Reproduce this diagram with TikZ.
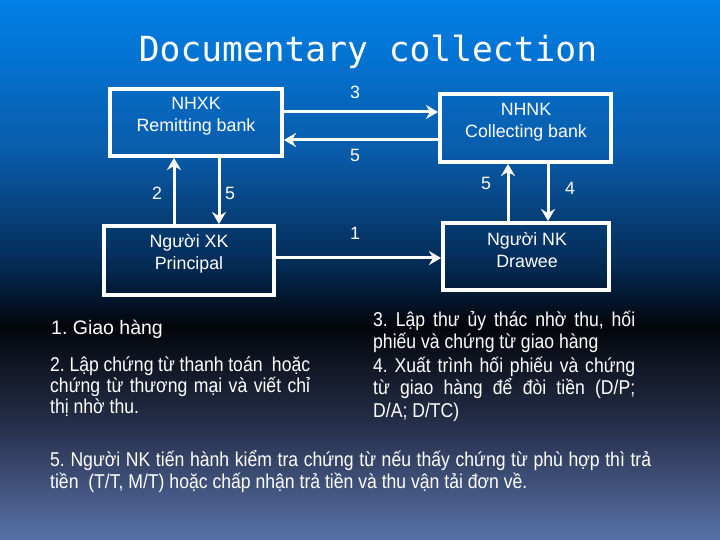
\documentclass[tikz,border=0pt]{standalone}
\usepackage{fontspec}
\setmainfont{Liberation Sans}
\newfontfamily\condfont[FakeStretch=0.88]{Liberation Sans}
\newfontfamily\titlefont{DejaVu Sans Mono}
\usetikzlibrary{arrows.meta}
\frenchspacing
\definecolor{g0}{RGB}{0,128,232}
\definecolor{g1}{RGB}{10,92,170}
\definecolor{g2}{RGB}{4,40,80}
\definecolor{g3}{RGB}{2,5,10}
\definecolor{g4}{RGB}{40,50,78}
\definecolor{g5}{RGB}{88,114,168}
\begin{document}
\begin{tikzpicture}[x=1bp,y=-1bp,
  box/.style={draw=white, line width=4bp, inner sep=0pt, rectangle},
  btxt/.style={text=white, align=center, inner sep=0pt,
    font=\fontsize{17.8bp}{22bp}\selectfont},
  lbl/.style={text=white, inner sep=0pt, font=\fontsize{17.8bp}{20bp}\selectfont},
  arr/.style={draw=white, line width=3bp, -{Stealth[length=12bp,width=14bp,inset=4bp]}},
  para/.style={text=white, inner sep=0pt, anchor=base west, align=justify}
]
\useasboundingbox (0,0) rectangle (720,540);
\shade[top color=g0, bottom color=g1] (0,0) rectangle (720,151);
\shade[top color=g1, bottom color=g2] (0,150) rectangle (720,271);
\shade[top color=g2, bottom color=g3] (0,270) rectangle (720,326);
\shade[top color=g3, bottom color=g4] (0,325) rectangle (720,431);
\shade[top color=g4, bottom color=g5] (0,430) rectangle (720,540);

\node[text=white, inner sep=0pt, anchor=base,
  font=\titlefont\fontsize{34.6bp}{40bp}\selectfont] (title) at (368,62) {Documentary collection};

% boxes
\node[box, minimum width=172bp, minimum height=67bp] (nhxk) at (196,122.5) {};
\node[box, minimum width=171bp, minimum height=68bp] (nhnk) at (525.5,128) {};
\node[box, minimum width=170bp, minimum height=69bp] (nxk) at (189,260.5) {};
\node[box, minimum width=166bp, minimum height=67bp] (nnk) at (526,256.5) {};

\node[btxt] (tnhxk) at (196,116) {NHXK\\Remitting bank};
\node[btxt] (tnhnk) at (526,122) {NHNK\\Collecting bank};
\node[btxt] (tnxk) at (189,254) {Người XK\\Principal};
\node[btxt] (tnnk) at (527,250) {Người NK\\Drawee};

% arrows
\draw[arr] (nhxk.east |- 0,112) -- (nhnk.west |- 0,112);
\draw[arr] (nhnk.west |- 0,140) -- (nhxk.east |- 0,140);
\draw[arr] (nxk.north -| 174,0) -- (nhxk.south -| 174,0);
\draw[arr] (nhxk.south -| 219,0) -- (nxk.north -| 219,0);
\draw[arr] (nxk.east |- 0,258) -- (nnk.west |- 0,258);
\draw[arr] (nnk.north -| 508,0) -- (nhnk.south -| 508,0);
\draw[arr] (nhnk.south -| 548,0) -- (nnk.north -| 548,0);

% labels
\node[lbl] (l3) at (355,92) {3};
\node[lbl] (l5a) at (355,155) {5};
\node[lbl] (l2) at (157,193) {2};
\node[lbl] (l5b) at (230,193) {5};
\node[lbl] (l1) at (355,233) {1};
\node[lbl] (l5c) at (486,183) {5};
\node[lbl] (l4) at (570,188) {4};

% explanatory text
\node[text=white, inner sep=0pt, anchor=base west,
  font=\fontsize{19.5bp}{21bp}\selectfont] (i1) at (51,334) {1. Giao hàng};
\node[para, text width=260bp, font=\condfont\fontsize{20bp}{21bp}\selectfont] (i2) at (50,371)
  {\tolerance=10000 2. Lập chứng từ thanh toán~ hoặc\linebreak chứng từ thương mại và viết chỉ\linebreak thị nhờ thu.};
\node[para, text width=262bp, font=\condfont\fontsize{20bp}{22.5bp}\selectfont] (i3) at (373,326)
  {\tolerance=10000 3. Lập thư ủy thác nhờ thu, hối\linebreak phiếu và chứng từ giao hàng};
\node[para, text width=262bp, font=\condfont\fontsize{20bp}{22.5bp}\selectfont] (i4) at (373,372)
  {\tolerance=10000 4. Xuất trình hối phiếu và chứng\linebreak từ giao hàng để đòi tiền (D/P;\linebreak D/A; D/TC)};
\node[para, text width=601bp, font=\condfont\fontsize{20bp}{22bp}\selectfont] (i5) at (50,466)
  {\tolerance=10000 5. Người NK tiến hành kiểm tra chứng từ nếu thấy chứng từ phù hợp thì trả\linebreak tiền~ (T/T, M/T) hoặc chấp nhận trả tiền và thu vận tải đơn về.};
\end{tikzpicture}
\end{document}
